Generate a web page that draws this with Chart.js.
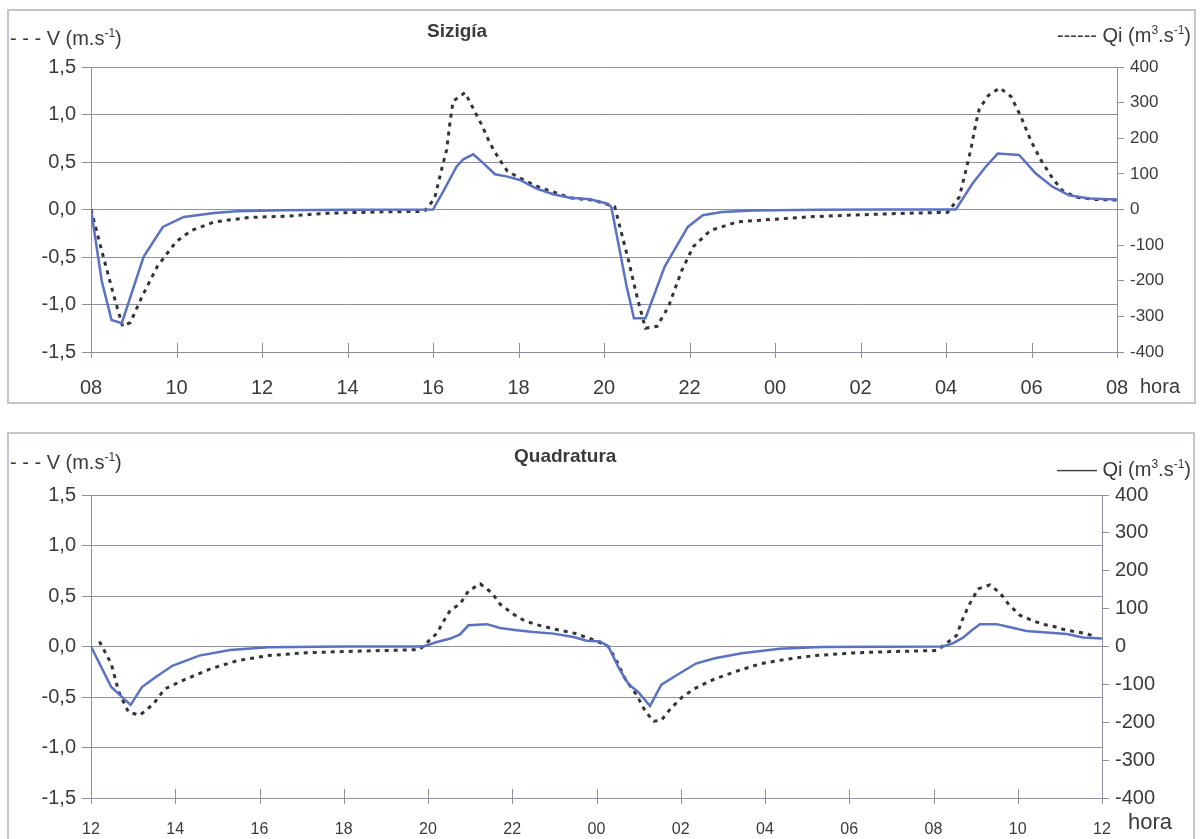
<!DOCTYPE html>
<html>
<head>
<meta charset="utf-8">
<script src="https://cdn.jsdelivr.net/npm/chart.js@4.4.1/dist/chart.umd.min.js"></script>
<style>
  body { margin: 0; background: #fff; font-family: "Liberation Sans", Arial, sans-serif; color: #3a3a3a; }
  .frame { position: absolute; border: 2px solid #c3c6ce; }
  .box { position: absolute; left: 0; width: 1202px; }
  .txt { position: absolute; white-space: nowrap; line-height: 1; font-size: 20px; }
  .txt sup { font-size: 12px; vertical-align: 8px; line-height: 0; }
  .ttl { position: absolute; font-weight: bold; font-size: 19px; line-height: 1; }
</style>
</head>
<body>
<div class="frame" style="left:7px;top:9px;width:1185px;height:391px"></div>
<div class="frame" style="left:7px;top:432px;width:1184px;height:420px"></div>

<div class="box" style="top:0;height:420px"><canvas id="sizigia" width="1202" height="420"></canvas></div>
<div class="box" style="top:420px;height:419px"><canvas id="quadratura" width="1202" height="419"></canvas></div>

<div class="txt" style="left:10px;top:28px">- - - V (m.s<sup>-1</sup>)</div>
<div class="ttl" style="left:427px;top:21px">Sizigía</div>
<div class="txt" style="right:11px;top:25px">------ Qi (m<sup>3</sup>.s<sup>-1</sup>)</div>
<div class="txt" style="left:1140px;top:376px">hora</div>

<div class="txt" style="left:10px;top:452px">- - - V (m.s<sup>-1</sup>)</div>
<div class="ttl" style="left:514px;top:446px">Quadratura</div>
<div class="txt" style="right:11px;top:459px">—— Qi (m<sup>3</sup>.s<sup>-1</sup>)</div>
<div class="txt" style="left:1128px;top:811px;font-size:22px">hora</div>

<script>
// hours counted from the first tick of each panel
const sizTicks = ['08', '10', '12', '14', '16', '18', '20', '22', '00', '02', '04', '06', '08'];
const quaTicks = ['12', '14', '16', '18', '20', '22', '00', '02', '04', '06', '08', '10', '12'];

// Sizigia - Qi (m3/s), solid
const sizHoursQ = [0, 0.25, 0.48, 0.72, 1.23, 1.68, 2.17, 2.88, 3.4, 4.5, 6, 8.0, 8.24, 8.55, 8.71, 8.94, 9.17, 9.45, 9.72, 10.03, 10.42, 10.81, 11.2, 11.67, 12.06, 12.17, 12.53, 12.70, 12.97, 13.42, 13.96, 14.31, 14.76, 15.5, 17, 18.5, 20.23, 20.62, 20.93, 21.21, 21.71, 22.1, 22.49, 22.88, 23.35, 24];
const sizQ = [0, -200, -310, -319, -133, -49, -21, -10, -5, -2, -1, 0, 51, 120, 141, 155, 131, 99, 93, 83, 59, 43, 33, 29, 17, 8, -216, -305, -305, -160, -49, -16, -7, -3, -1, 0, 0, 73, 120, 157, 153, 101, 64, 40, 31, 28];

// Sizigia - V (m/s), dashed
const sizHoursV = [0, 0.29, 0.56, 0.74, 0.92, 1.19, 1.55, 1.99, 2.35, 2.89, 3.69, 4.6, 5.48, 6.82, 7.8, 8.04, 8.2, 8.32, 8.39, 8.47, 8.75, 8.98, 9.14, 9.33, 9.52, 9.73, 9.99, 10.5, 11.24, 11.74, 12.25, 12.57, 12.79, 12.97, 13.24, 13.51, 13.82, 14.09, 14.49, 15.12, 15.92, 16.82, 17.71, 19.05, 20.04, 20.31, 20.47, 20.58, 20.7, 20.78, 20.99, 21.26, 21.52, 21.75, 21.99, 22.22, 22.49, 22.72, 23.04, 23.5, 24];
const sizV = [0, -0.50, -0.95, -1.23, -1.19, -0.92, -0.60, -0.34, -0.22, -0.13, -0.084, -0.07, -0.04, -0.025, -0.02, 0.12, 0.42, 0.63, 0.89, 1.14, 1.23, 1.03, 0.89, 0.70, 0.55, 0.41, 0.34, 0.23, 0.12, 0.10, 0.03, -0.53, -0.95, -1.25, -1.23, -1.02, -0.64, -0.39, -0.22, -0.13, -0.105, -0.077, -0.06, -0.04, -0.03, 0.13, 0.42, 0.63, 0.91, 1.06, 1.2, 1.28, 1.19, 0.98, 0.72, 0.52, 0.33, 0.20, 0.13, 0.106, 0.1];

// Quadratura - Qi (m3/s), solid
const quaHoursQ = [0, 0.48, 0.94, 1.21, 1.48, 1.93, 2.57, 3.3, 4.2, 6, 7.89, 8.21, 8.53, 8.76, 8.96, 9.4, 9.71, 10.11, 10.5, 10.98, 11.45, 11.77, 12.09, 12.28, 12.54, 12.77, 12.99, 13.27, 13.54, 13.9, 14.36, 14.81, 15.45, 16.35, 17.35, 20.23, 20.47, 20.71, 20.91, 21.1, 21.5, 21.82, 22.21, 22.69, 23.16, 23.55, 24];
const quaQ = [0, -107, -154, -107, -85, -51, -24, -9, -2, 0, 0, 12, 21, 32, 56, 59, 49, 43, 38, 34, 25, 15, 13, 0, -59, -101, -120, -157, -101, -76, -45, -31, -18, -6, -1, 0, 9, 24, 43, 59, 59, 51, 41, 37, 33, 24, 21];

// Quadratura - V (m/s), dashed
const quaHoursV = [0.2, 0.48, 0.66, 0.89, 1.16, 1.48, 1.75, 2.21, 2.84, 3.48, 4.2, 5.11, 6.0, 6.93, 7.8, 8.21, 8.37, 8.53, 8.76, 8.96, 9.24, 9.52, 9.71, 9.99, 10.27, 10.54, 11.02, 11.49, 12.0, 12.28, 12.45, 12.68, 12.95, 13.17, 13.36, 13.54, 13.77, 14.04, 14.31, 14.81, 15.36, 15.9, 16.45, 17.17, 18.08, 18.99, 20.08, 20.55, 20.67, 20.83, 21.06, 21.34, 21.58, 21.78, 22.05, 22.33, 22.6, 22.84, 23.08, 23.32, 23.6, 23.83];
const quaV = [0.05, -0.17, -0.45, -0.65, -0.68, -0.57, -0.42, -0.33, -0.22, -0.14, -0.09, -0.062, -0.05, -0.04, -0.03, 0.13, 0.25, 0.36, 0.42, 0.55, 0.62, 0.53, 0.42, 0.33, 0.26, 0.22, 0.17, 0.13, 0.055, 0, -0.12, -0.32, -0.48, -0.65, -0.74, -0.73, -0.61, -0.50, -0.42, -0.32, -0.24, -0.17, -0.13, -0.09, -0.064, -0.05, -0.04, 0.11, 0.25, 0.40, 0.57, 0.61, 0.53, 0.42, 0.31, 0.26, 0.22, 0.20, 0.17, 0.15, 0.13, 0.10];

const gridColor = '#8d909c';
const textColor = '#3a3a3a';

const pts = (xs, ys) => xs.map((x, i) => ({ x: x, y: ys[i] }));

// x tick marks in this chart cross the axis line
const crossTicks = {
  id: 'crossTicks',
  afterDraw(chart) {
    const xs = chart.scales.x;
    const ctx = chart.ctx;
    const y = chart.chartArea.bottom;
    ctx.save();
    ctx.strokeStyle = gridColor;
    ctx.lineWidth = 1;
    xs.ticks.forEach((t, i) => {
      const px = Math.round(xs.getPixelForTick(i)) + 0.5;
      ctx.beginPath();
      ctx.moveTo(px, y - 9);
      ctx.lineTo(px, y + 6);
      ctx.stroke();
    });
    ctx.restore();
  }
};

const makeChart = (id, hoursV, v, hoursQ, q, tickLabels, lay) => {
  return new Chart(document.getElementById(id), {
    type: 'line',
    data: {
      datasets: [
        {
          label: 'Qi',
          data: pts(hoursQ, q),
          yAxisID: 'yQ',
          borderColor: '#5a72c4',
          borderWidth: 2.5,
          pointRadius: 0,
          tension: 0,
          fill: false,
        },
        {
          label: 'V',
          data: pts(hoursV, v),
          yAxisID: 'yV',
          borderColor: '#33333d',
          borderWidth: 3,
          borderDash: [4, 5],
          pointRadius: 0,
          tension: 0,
          fill: false,
        },
      ]
    },
    options: {
      responsive: false,
      animation: false,
      layout: {
        padding: { top: lay.top, left: 0, right: 0, bottom: 0 }
      },
      scales: {
        x: {
          type: 'linear',
          min: 0,
          max: 24,
          afterFit: (s) => { s.height = lay.xHeight; },
          grid: { display: false, drawTicks: false },
          border: { display: true, color: gridColor, width: 1 },
          ticks: {
            stepSize: 2,
            padding: lay.xPad,
            color: textColor,
            maxRotation: 0,
            autoSkip: false,
            font: { family: 'Liberation Sans', size: lay.xFont },
            callback: (val) => tickLabels[val / 2],
          }
        },
        yV: {
          position: 'left',
          min: -1.5,
          max: 1.5,
          afterFit: (s) => { s.width = 91; },
          grid: { color: gridColor, tickLength: 9, lineWidth: 1 },
          border: { display: true, color: gridColor, width: 1 },
          ticks: {
            stepSize: 0.5,
            padding: 6,
            color: textColor,
            font: { family: 'Liberation Sans', size: 20 },
            callback: (val) => val.toFixed(1).replace('.', ','),
          }
        },
        yQ: {
          position: 'right',
          min: -400,
          max: 400,
          afterFit: (s) => { s.width = lay.rightWidth; },
          grid: { drawOnChartArea: false, color: gridColor, tickLength: 7 },
          border: { display: true, color: gridColor, width: 1 },
          ticks: {
            stepSize: 100,
            padding: 6,
            color: textColor,
            font: { family: 'Liberation Sans', size: lay.rightFont },
          }
        }
      },
      plugins: {
        legend: { display: false },
        title: { display: false },
        tooltip: { enabled: false },
      }
    },
    plugins: [crossTicks],
  });
};

makeChart('sizigia', sizHoursV, sizV, sizHoursQ, sizQ, sizTicks,
  { top: 67, xHeight: 68, xPad: 24, xFont: 20, rightWidth: 85, rightFont: 17 });
makeChart('quadratura', quaHoursV, quaV, quaHoursQ, quaQ, quaTicks,
  { top: 75, xHeight: 41, xPad: 22, xFont: 16, rightWidth: 100, rightFont: 20 });
</script>
</body>
</html>
